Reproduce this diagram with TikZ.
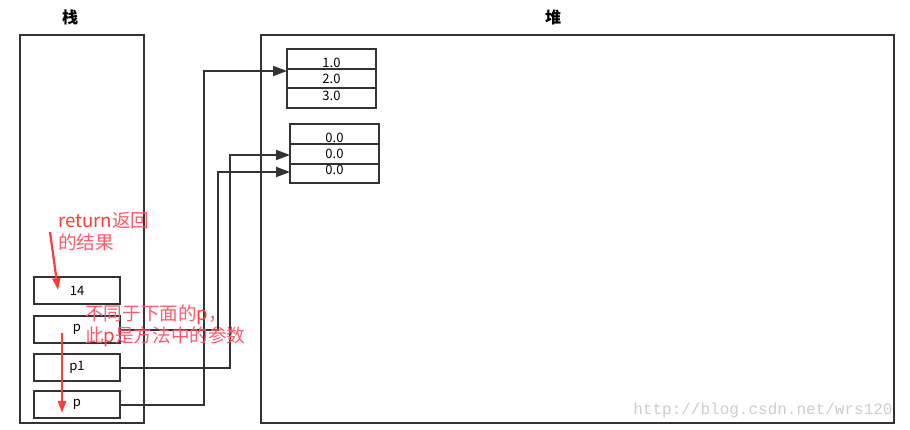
\documentclass[tikz,border=0pt]{standalone}
\usepackage{fontspec}
\setmainfont{Noto Sans CJK SC}
\newfontfamily\wmfont{Liberation Mono}
\usetikzlibrary{arrows.meta}
\definecolor{ln}{HTML}{333333}
\definecolor{anno}{HTML}{FF3B3B}
\definecolor{annob}{HTML}{FF5A6A}
\begin{document}
\begin{tikzpicture}[x=1pt,y=-1pt,
  frame/.style={draw=ln,line width=2.2pt},
  cell/.style={draw=ln,line width=2.2pt,minimum width=86pt,minimum height=27pt,inner sep=0pt,font=\fontsize{13}{14}\selectfont},
  hrow/.style={draw=ln,line width=2.2pt,minimum width=89pt,inner sep=0pt},
  num/.style={font=\fontsize{13}{14}\selectfont,inner sep=0pt},
  link/.style={draw=ln,line width=2pt,-{Triangle[length=14pt,width=10pt]}},
  redarrow/.style={draw=anno,line width=2.2pt,-{Triangle[length=12pt,width=8pt]}},
  anntext/.style={font=\fontsize{18.6}{22}\selectfont,align=left,inner sep=0pt,anchor=north west},
  title/.style={font=\fontsize{16}{17}\selectfont\bfseries}]
\useasboundingbox (0,0) rectangle (910,430);
% titles
\node[title] (tS) at (70,17) {栈};
\node[title] (tH) at (553,17) {堆};
% frames
\node[frame,minimum width=124pt,minimum height=388pt,inner sep=0pt] (stack) at (82,229) {};
\node[frame,minimum width=633pt,minimum height=388pt,inner sep=0pt] (heap) at (577.5,229) {};
% stack cells
\node[cell] (s14) at (77,290.5) {14};
\node[cell] (sp) at (77,329.5) {p};
\node[cell] (sp1) at (77,367.5) {p1};
\node[cell] (spb) at (77,404.5) {p};
% heap array 1
\node[hrow,minimum height=20pt] (a11) at (331.5,59) {};
\node[hrow,minimum height=19pt] (a12) at (331.5,78.5) {};
\node[hrow,minimum height=20pt] (a13) at (331.5,98) {};
\node[num] (v11) at (331.5,63) {1.0};
\node[num] (v12) at (331.5,79) {2.0};
\node[num] (v13) at (331.5,96) {3.0};
% heap array 2
\node[hrow,minimum height=20pt] (a21) at (334.5,134) {};
\node[hrow,minimum height=20pt] (a22) at (334.5,154) {};
\node[hrow,minimum height=19pt] (a23) at (334.5,173.5) {};
\node[num] (v21) at (334.5,138) {0.0};
\node[num] (v22) at (334.5,154) {0.0};
\node[num] (v23) at (334.5,170) {0.0};
% bend columns and targets
\coordinate (c1) at (204,0);
\coordinate (c2) at (218,0);
\coordinate (c3) at (230,0);
\coordinate (t1) at (287,71);
\coordinate (t2) at (290,172);
\coordinate (t3) at (290,155);
\draw[link] (spb.east) -- (spb.east -| c1) |- (t1);
\draw[link] (sp.east) -- (sp.east -| c2) |- (t2);
\draw[link] (sp1.east) -- (sp1.east -| c3) |- (t3);
% annotations
\node[anntext] (n1) at (58,212) {{\color{anno}return}{\color{annob}返回}\\{\color{annob}的结果}};
\coordinate (r1s) at (50,232);
\coordinate (r1e) at (58,290);
\draw[redarrow] (r1s) -- (r1e);
\node[anntext] (n2) at (85,305) {{\color{annob}不同于下面的}{\color{anno}p}{\color{annob}，}\\{\color{annob}此}{\color{anno}p}{\color{annob}是方法中的参数}};
\coordinate (r2s) at (62,333);
\coordinate (r2e) at (62,413);
\draw[redarrow] (r2s) -- (r2e);
% watermark
\node[font=\wmfont\fontsize{16}{16}\selectfont,text=black!20,inner sep=0pt] (wm) at (763,410) {http://blog.csdn.net/wrs120};
\end{tikzpicture}
\end{document}
